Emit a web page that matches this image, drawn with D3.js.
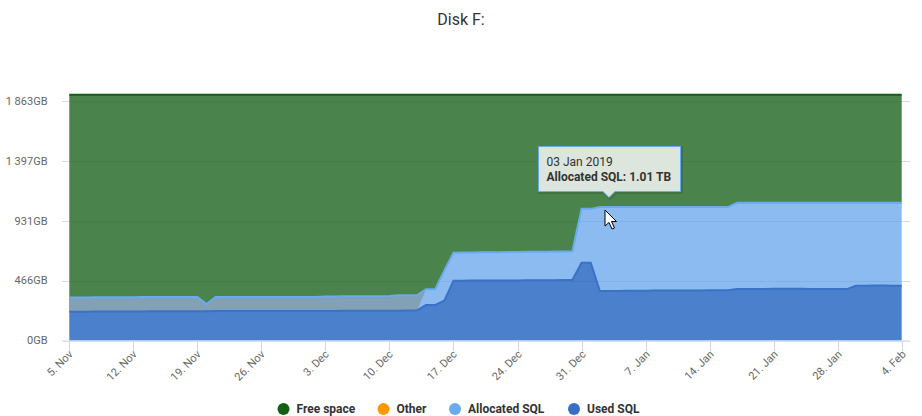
<!DOCTYPE html>
<html><head><meta charset="utf-8">
<script src="https://cdn.jsdelivr.net/npm/d3@7"></script>
<style>
html,body{margin:0;padding:0;background:#fff;}
svg{display:block;font-family:Roboto,"Noto Sans",sans-serif;}
</style></head>
<body><svg id="c" width="922" height="416"></svg>
<script>
// ---- data ----
const startDate = "2018-11-05";
const dayCount = 92;
const totalDisk = 1912; // GB
const usedSQL = [
 224,224,224,225,225,225,226,
 226,226,227,227,227,228,228,
 228,228,229,229,229,229,229,
 229,229,229,230,230,230,230,
 230,230,231,231,231,231,231,
 232,232,233,234,
 276,277,310,464,
 465,466,466,466,466,467,467,468,468,469,469,470,470,
 605,605,
 386,386,386,387,387,387,388,388,388,389,389,389,390,390,391,
 400,401,401,401,402,402,402,402,401,401,401,400,400,
 425,426,427,427,426,426];
const allocatedSQL = [
 335,335,335,337,337,337,337,
 337,338,338,338,338,338,338,
 338,283,338,338,338,338,338,
 338,338,338,338,338,339,339,
 343,343,344,344,344,344,345,
 346,352,352,352,
 399,399,545,683,
 684,685,686,686,687,688,689,690,690,691,692,693,694,
 1024,1024,
 1038,1038,1038,1038,1038,1038,1038,1038,1038,1038,1038,1038,1038,1038,1038,
 1071,1071,1071,1071,1071,1071,1071,1071,1071,1071,1071,1071,1071,
 1071,1071,1071,1071,1071,1071];
const freeSpace = [
 1688,1688,1688,1687,1687,1687,1686,
 1686,1686,1685,1685,1685,1684,1684,
 1684,1684,1683,1683,1683,1683,1683,
 1683,1683,1683,1682,1682,1682,1682,
 1682,1682,1681,1681,1681,1681,1681,
 1680,1680,1679,1678,
 1513,1513,1367,1229,
 1228,1227,1226,1226,1225,1224,1223,1222,1222,1221,1220,1219,1218,
 888,888,
 874,874,874,874,874,874,874,874,874,874,874,874,874,874,874,
 841,841,841,841,841,841,841,841,841,841,841,841,841,
 841,841,841,841,841,841];
const other = new Array(dayCount).fill(0);
const yTickValues = [0, 465.75, 931.5, 1397.25, 1863];
const yTickLabels = ["0GB", "466GB", "931GB", "1 397GB", "1 863GB"];
const seriesNames = ["Free space", "Other", "Allocated SQL", "Used SQL"];
const seriesColors = ["#145f14", "#ff9800", "#6aabf0", "#386fc6"];
const tooltipDate = "03 Jan 2019";
const tooltipText = "Allocated SQL: 1.01 TB";
const tooltipIndex = 59;

// ---- build ----
const parse = d3.timeParse("%Y-%m-%d");
const d0 = parse(startDate);
const dates = d3.range(dayCount).map(i => d3.timeDay.offset(d0, i));
const rows = dates.map((d, i) => ({
  date: d, used: usedSQL[i], alloc: allocatedSQL[i],
  base: totalDisk - freeSpace[i], top: totalDisk, other: other[i]
}));

const svg = d3.select("#c");
const plotL = 62, plotR = 910;
const x = d3.scaleTime().domain([dates[0], dates[dates.length-1]]).range([69.3, 901.7]);
const y = d3.scaleLinear().domain([0, totalDisk]).range([340.5, 94.7]);

// title
svg.append("text").attr("x", 461).attr("y", 25).attr("text-anchor", "middle")
  .attr("font-size", 16).attr("fill", "#333").text("Disk F:");

// grid
svg.append("g").selectAll("line").data(yTickValues).join("line")
  .attr("x1", plotL).attr("x2", plotR)
  .attr("y1", d => Math.round(y(d)) + 0.5).attr("y2", d => Math.round(y(d)) + 0.5)
  .attr("stroke", "#e6e6e6");

// areas
const g = svg.append("g");
g.append("path").datum(rows)
  .attr("d", d3.area().x(d => x(d.date)).y0(d => y(d.base)).y1(d => y(d.top)))
  .attr("fill", "#4a844c");
g.append("path").datum(rows)
  .attr("d", d3.area().x(d => x(d.date)).y0(d => y(d.used)).y1(d => y(d.alloc)))
  .attr("fill", "#8bbbf0");
g.append("path").datum(rows)
  .attr("d", d3.area().x(d => x(d.date)).y0(d => y(Math.min(d.base, d.alloc))).y1(d => y(d.alloc)))
  .attr("fill", "#82a0b6");
g.append("path").datum(rows)
  .attr("d", d3.area().x(d => x(d.date)).y0(y(0)).y1(d => y(d.used)))
  .attr("fill", "#4a80cc");
// grid overlay (faint, visible through fills)
g.append("g").selectAll("line").data(yTickValues.slice(1)).join("line")
  .attr("x1", plotL).attr("x2", plotR)
  .attr("y1", d => Math.round(y(d)) + 0.5).attr("y2", d => Math.round(y(d)) + 0.5)
  .attr("stroke", "#000").attr("stroke-opacity", 0.05);
// lines
g.append("path").datum(rows)
  .attr("d", d3.line().x(d => x(d.date)).y(d => y(d.alloc)))
  .attr("fill", "none").attr("stroke", "#6aabf0").attr("stroke-width", 2);
g.append("path").datum(rows)
  .attr("d", d3.line().x(d => x(d.date)).y(d => y(d.used)))
  .attr("fill", "none").attr("stroke", "#3a72c8").attr("stroke-width", 2);
g.append("path").datum(rows)
  .attr("d", d3.line().x(d => x(d.date)).y(d => y(d.top)))
  .attr("fill", "none").attr("stroke", "#145f14").attr("stroke-width", 2);

// x axis
svg.append("line").attr("x1", plotL).attr("x2", plotR)
  .attr("y1", 341).attr("y2", 341).attr("stroke", "#ccd6eb");
const xt = d3.timeDay.every(7).range ? d3.range(0, dayCount, 7).map(i => dates[i]) : [];
const fmt = d3.timeFormat("%-d. %b");
const xg = svg.append("g").selectAll("g").data(xt).join("g")
  .attr("transform", d => `translate(${Math.round(x(d)) + 0.5},0)`);
xg.append("line").attr("y1", 341).attr("y2", 351).attr("stroke", "#ccd6eb");
xg.append("text").attr("transform", "translate(4,355) rotate(-45)")
  .attr("text-anchor", "end").attr("font-size", 11).attr("fill", "#666")
  .text(d => fmt(d));

// y labels
svg.append("g").selectAll("text").data(yTickValues).join("text")
  .attr("x", 47.5).attr("y", d => y(d)).attr("dy", "0.35em")
  .attr("text-anchor", "end").attr("font-size", 11).attr("fill", "#666")
  .text((d, i) => yTickLabels[i]);

// legend
const legX = [283.5, 383.5, 455, 574];
const lg = svg.append("g").selectAll("g").data(seriesNames).join("g")
  .attr("transform", (d, i) => `translate(${legX[i]},409)`);
lg.append("circle").attr("r", 6).attr("fill", (d, i) => seriesColors[i]);
lg.append("text").attr("x", 13).attr("dy", "0.35em").attr("font-size", 12)
  .attr("font-weight", "bold").attr("fill", "#333").text(d => d);

// tooltip
const tx = x(dates[tooltipIndex]);
const tip = svg.append("g");
const bx = 538.5, by = 146.5, bw = 142, bh = 45;
const tipPath = `M${bx},${by}h${bw}v${bh}H${tx+6}l-6,6l-6,-6H${bx}Z`;
tip.append("path").attr("d", tipPath).attr("transform", "translate(1,1)")
  .attr("fill", "none").attr("stroke", "#000").attr("stroke-opacity", 0.12).attr("stroke-width", 3);
tip.append("path").attr("d", tipPath).attr("fill", "rgba(247,247,247,0.85)")
  .attr("stroke", "#6aabf0").attr("stroke-width", 1);
tip.append("text").attr("x", 546.5).attr("y", 165.5).attr("font-size", 12)
  .attr("fill", "#333").text(tooltipDate);
tip.append("text").attr("x", 546.5).attr("y", 180.5).attr("font-size", 12)
  .attr("font-weight", "bold").attr("fill", "#333").text(tooltipText);

// mouse cursor
svg.append("path").attr("transform", "translate(605,210)")
  .attr("d", "M0,0L0,16L4,12.5L7,19L9.5,18L6.5,11.5L11.5,11.5Z")
  .attr("fill", "#fff").attr("stroke", "#000").attr("stroke-width", 1);
</script></body></html>
